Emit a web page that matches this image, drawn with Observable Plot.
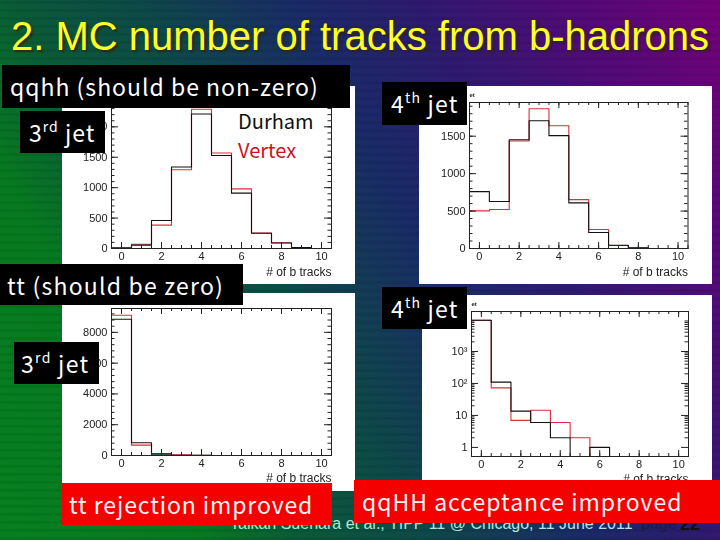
<!DOCTYPE html>
<html>
<head>
<meta charset="utf-8">
<script src="https://cdn.jsdelivr.net/npm/d3@7"></script>
<script src="https://cdn.jsdelivr.net/npm/@observablehq/plot@0.6"></script>
<style>
  html, body { margin: 0; padding: 0; }
  #slide {
    position: relative; width: 720px; height: 540px; overflow: hidden;
    background:
      repeating-linear-gradient(0deg, rgba(0,0,0,.07) 0 3px, rgba(0,0,0,0) 3px 8px),
      linear-gradient(62deg, #06801f 0%, #067a20 20%, #0a5a38 30%, #0d4a48 42%, #1a2a68 58%, #2e1a70 70%, #520a78 85%, #74007a 100%);
  }
  #slide svg { position: absolute; filter: blur(0.35px); }
  #title {
    position: absolute; left: 11px; top: 14px; white-space: nowrap;
    font: 40px "Liberation Sans", sans-serif; color: #ffff2a;
    text-shadow: 2px 2px 2px #2a2a10;
  }
  .box {
    position: absolute; white-space: nowrap; box-sizing: border-box;
    font-family: "Noto Sans CJK JP", sans-serif; font-weight: 400; color: #fff; font-size: 23px; line-height: 42px;
  }
  .box sup { font-size: 14px; line-height: 0; position: relative; top: -1px; vertical-align: super; }
  .black { background: #000; }
  .red { background: #f40000; color: #fff4f0; }
  .note { position: absolute; font: 20px "Noto Sans CJK JP", sans-serif; white-space: nowrap; }
  .foot { position: absolute; top: 514px; font: 16px/20px "Liberation Sans", sans-serif; white-space: nowrap; }
</style>
</head>
<body>
<div id="slide"></div>
<script>
// bins 0..10, number of b tracks
const bins = [0, 1, 2, 3, 4, 5, 6, 7, 8, 9, 10]

// qqhh 3rd jet
const qqhh3Durham = [10, 55, 460, 1340, 2210, 1530, 910, 250, 90, 15, 0]
const qqhh3Vertex = [5, 70, 385, 1295, 2290, 1570, 980, 255, 95, 10, 0]
// qqhh 4th jet
const qqhh4Durham = [760, 627, 1453, 1707, 1507, 609, 213, 44, 8, 0, 0]
const qqhh4Vertex = [502, 520, 1436, 1867, 1640, 653, 253, 40, 6, 0, 0]
// tt 3rd jet
const tt3Durham = [8850, 826, 87, 20, 5, 0, 0, 0, 0, 0, 0]
const tt3Vertex = [9110, 674, 130, 40, 5, 0, 0, 0, 0, 0, 0]
// tt 4th jet, log axis (empty bins sit on the floor of the axis)
const logFloor = 0.52
const tt4Durham = [9500, 110, 13.6, 6, 2, logFloor, 1, logFloor, logFloor, logFloor, logFloor]
const tt4Vertex = [9400, 73, 7, 14.5, 6, 2, logFloor, logFloor, logFloor, logFloor, logFloor]

const xMajor = [0, 2, 4, 6, 8, 10]
const xMinor = d3.range(-0.5, 10.6, 0.5)

// edges for the step outline, last bin repeated to close it
const outline = (values) => [...bins.map((b, i) => ({edge: b - 0.5, n: values[i]})),
  {edge: 10.5, n: values[values.length - 1]}]

function panel({left, top, width, height, mt, mb, ml, mr, durham, vertex, yType, yDomain, yMajor, yMinor, yFormat, stub, labelDy}) {
  const fh = height - mt - mb
  const fw = width - ml - mr
  const chart = Plot.plot({
    width, height, marginTop: mt, marginBottom: mb, marginLeft: ml, marginRight: mr,
    style: {background: "#fff", fontFamily: "Liberation Sans", fontSize: "11px", color: "#222"},
    x: {domain: [-0.5, 10.5]},
    y: {type: yType, domain: yDomain},
    marks: [
      Plot.line(outline(vertex), {x: "edge", y: "n", curve: "step-after", stroke: "#d8303c", strokeWidth: 1.1}),
      Plot.line(outline(durham), {x: "edge", y: "n", curve: "step-after", stroke: "#111", strokeWidth: 1.1}),
      // root style ticks, inward on all four sides
      Plot.tickX(xMajor, {x: d => d, insetTop: fh - 6, stroke: "#222"}),
      Plot.tickX(xMajor, {x: d => d, insetBottom: fh - 6, stroke: "#222"}),
      Plot.tickX(xMinor, {x: d => d, insetTop: fh - 3, stroke: "#222"}),
      Plot.tickX(xMinor, {x: d => d, insetBottom: fh - 3, stroke: "#222"}),
      Plot.tickY(yMajor, {y: d => d, insetRight: fw - 7, stroke: "#222"}),
      Plot.tickY(yMajor, {y: d => d, insetLeft: fw - 7, stroke: "#222"}),
      Plot.tickY(yMinor, {y: d => d, insetRight: fw - 3.5, stroke: "#222"}),
      Plot.tickY(yMinor, {y: d => d, insetLeft: fw - 3.5, stroke: "#222"}),
      Plot.axisX(xMajor, {tickSize: 0, tickPadding: 4, label: null, fontSize: 11}),
      Plot.axisY(yMajor, {tickSize: 0, tickPadding: 4, label: null, fontSize: 11, tickFormat: yFormat}),
      Plot.text(["# of b tracks"], {frameAnchor: "bottom-right", dy: labelDy, lineAnchor: "middle", fontSize: 12, fill: "#222"}),
      stub ? Plot.text(["et"], {frameAnchor: "top-left", dy: -10, dx: 0, fontSize: 6, fontWeight: "bold", fill: "#222"}) : null,
      Plot.frame({stroke: "#222", strokeWidth: 1})
    ]
  })
  chart.style.left = left + "px"
  chart.style.top = top + "px"
  document.getElementById("slide").append(chart)
}

const fmt = d3.format("d")

panel({left: 62, top: 86, width: 293, height: 198, mt: 16, mb: 36, ml: 49, mr: 24, labelDy: 23.5,
  durham: qqhh3Durham, vertex: qqhh3Vertex, yType: "linear", yDomain: [0, 2400],
  yMajor: [0, 500, 1000, 1500, 2000], yMinor: d3.range(0, 2400, 100), yFormat: fmt})
panel({left: 419, top: 86, width: 293, height: 198, mt: 16, mb: 36, ml: 50, mr: 24.5, labelDy: 23.5, stub: true,
  durham: qqhh4Durham, vertex: qqhh4Vertex, yType: "linear", yDomain: [0, 1950],
  yMajor: [0, 500, 1000, 1500], yMinor: d3.range(0, 1950, 100), yFormat: fmt})
panel({left: 62, top: 293, width: 293, height: 198, mt: 15, mb: 36, ml: 49, mr: 24, labelDy: 23,
  durham: tt3Durham, vertex: tt3Vertex, yType: "linear", yDomain: [0, 9550],
  yMajor: [0, 2000, 4000, 6000, 8000], yMinor: d3.range(0, 9550, 400), yFormat: fmt})
panel({left: 422, top: 295, width: 290, height: 196, mt: 16, mb: 35, ml: 49, mr: 24, labelDy: 23, stub: true,
  durham: tt4Durham, vertex: tt4Vertex, yType: "log", yDomain: [logFloor, 17800],
  yMajor: [1, 10, 100, 1000], yMinor: [2,3,4,5,6,7,8,9,20,30,40,50,60,70,80,90,200,300,400,500,600,700,800,900,2000,3000,4000,5000,6000,7000,8000,9000],
  yFormat: d => ({1: "1", 10: "10", 100: "10²", 1000: "10³"})[d]})

// slide text on top of the histograms
const slide = document.getElementById("slide")
function addHtml(cls, css, html) {
  const el = document.createElement("div")
  el.className = cls
  el.style.cssText = css
  el.innerHTML = html
  slide.append(el)
}

addHtml("foot", "left:230px;color:#a8e8d8;", "Taikan Suehara et al., TIPP 11 @ Chicago, 11 June 2011")
addHtml("foot", "left:641px;color:#1c1c48;", "page")
addHtml("foot", "left:680px;color:#111;font-weight:bold;font-size:18px;", "22")

const title = document.createElement("div")
title.id = "title"
title.textContent = "2. MC number of tracks from b-hadrons"
slide.append(title)

addHtml("note", "left:238px;top:106px;color:#111;", "Durham")
addHtml("note", "left:238px;top:135px;color:#c8141e;", "Vertex")

addHtml("box black", "left:2px;top:65px;width:348px;height:43px;padding-left:8px;letter-spacing:1px;", "qqhh (should be non-zero)")
addHtml("box black", "left:20px;top:111px;width:85px;height:42px;padding-left:9px;letter-spacing:1px;", "3<sup>rd</sup> jet")
addHtml("box black", "left:382px;top:82px;width:85px;height:43px;padding-left:9px;letter-spacing:1.2px;", "4<sup>th</sup> jet")
addHtml("box black", "left:0;top:264px;width:243px;height:41px;padding-left:7px;letter-spacing:1.2px;", "tt (should be zero)")
addHtml("box black", "left:382px;top:287px;width:85px;height:42px;padding-left:9px;letter-spacing:1.2px;", "4<sup>th</sup> jet")
addHtml("box black", "left:14px;top:342px;width:85px;height:42px;padding-left:7px;letter-spacing:1.3px;", "3<sup>rd</sup> jet")
addHtml("box red", "left:62px;top:483px;width:270px;height:42px;padding-left:7px;letter-spacing:0.9px;", "tt rejection improved")
addHtml("box red", "left:354px;top:480px;width:366px;height:43px;padding-left:8px;letter-spacing:1px;", "qqHH acceptance improved")
</script>
</body>
</html>
